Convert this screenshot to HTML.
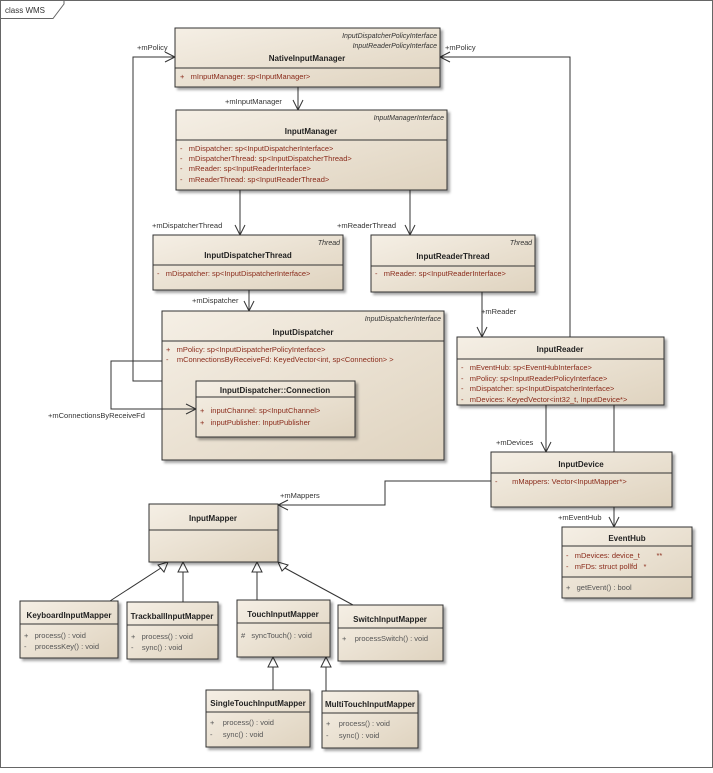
<!DOCTYPE html>
<html><head><meta charset="utf-8"><style>
html,body{margin:0;padding:0;background:#fff;}
svg text{font-family:"Liberation Sans",sans-serif;}
.t{font-size:8px;font-weight:bold;fill:#222;text-anchor:middle}
.s{font-size:7px;font-style:italic;fill:#333;text-anchor:end}
.a{font-size:7.5px;fill:#8a2b1b}
.m{font-size:7.5px;fill:#555}
.l{font-size:7.5px;fill:#333}
.ln{stroke:#333;stroke-width:1;fill:none}
</style></head><body>
<svg width="713" height="768" viewBox="0 0 713 768" xmlns="http://www.w3.org/2000/svg">
<defs>
<linearGradient id="g" x1="0" y1="0" x2="1" y2="1"><stop offset="0" stop-color="#f5efe5"/><stop offset="1" stop-color="#dfd3bf"/></linearGradient>
<filter id="sh" x="-5%" y="-5%" width="115%" height="120%"><feDropShadow dx="2.5" dy="2.5" stdDeviation="1.2" flood-color="#000" flood-opacity="0.35"/></filter>
</defs>
<rect x="0.5" y="0.5" width="712" height="767" fill="#fff" stroke="#666"/>
<path d="M0.5 18.5 H53 L64 4 V0.5" fill="none" stroke="#666"/>
<text x="5" y="13" style="font-size:8px;fill:#333">class WMS</text>

<path class="ln" d="M162 381 H133 V57 H175"/>
<path class="ln" d="M165 52 L175 57 L165 62"/>
<text class="l" x="137" y="50">+mPolicy</text>
<path class="ln" d="M570 337 V57 H440"/>
<path class="ln" d="M450 52 L440 57 L450 62"/>
<text class="l" x="445" y="50">+mPolicy</text>
<path class="ln" d="M298 87 V110 M293 100 L298 110 L303 100"/>
<text class="l" x="225" y="104">+mInputManager</text>
<path class="ln" d="M240 190 V235 M235 225 L240 235 L245 225"/>
<text class="l" x="152" y="228">+mDispatcherThread</text>
<path class="ln" d="M410 190 V235 M405 225 L410 235 L415 225"/>
<text class="l" x="337" y="228">+mReaderThread</text>
<path class="ln" d="M249 290 V311 M244 301 L249 311 L254 301"/>
<text class="l" x="192" y="303">+mDispatcher</text>
<path class="ln" d="M482 292 V337 M477 327 L482 337 L487 327"/>
<text class="l" x="481" y="314">+mReader</text>
<path class="ln" d="M546 405 V452 M541 442 L546 452 L551 442"/>
<text class="l" x="496" y="445">+mDevices</text>
<path class="ln" d="M614 405 V527 M609 517 L614 527 L619 517"/>
<text class="l" x="558" y="520">+mEventHub</text>
<path class="ln" d="M491 481 H385 V505 H278 M288 500 L278 505 L288 510"/>
<text class="l" x="280" y="498">+mMappers</text>
<text class="l" x="48" y="418">+mConnectionsByReceiveFd</text>

<path class="ln" d="M110 601 L164 566 M183 602 V570 M257 600 V570 M353 605 L283 567 M273 690 V665 M326 691 V665"/>
<g fill="#fff" stroke="#333">
<path d="M168 562 L158 565 L164 572 Z"/>
<path d="M183 562 L178 572 L188 572 Z"/>
<path d="M257 562 L252 572 L262 572 Z"/>
<path d="M278 562 L282 571 L288 565 Z"/>
<path d="M273 657 L268 667 L278 667 Z"/>
<path d="M326 657 L321 667 L331 667 Z"/>
</g>

<g stroke="#333" fill="url(#g)" filter="url(#sh)">
<rect x="175" y="28" width="265" height="59"/>
<rect x="176" y="110" width="271" height="80"/>
<rect x="153" y="235" width="190" height="55"/>
<rect x="371" y="235" width="164" height="57"/>
<rect x="162" y="311" width="282" height="149"/>
<rect x="457" y="337" width="207" height="68"/>
<rect x="491" y="452" width="181" height="55"/>
<rect x="562" y="527" width="130" height="71"/>
<rect x="149" y="504" width="129" height="58"/>
<rect x="20" y="601" width="98" height="57"/>
<rect x="127" y="602" width="91" height="57"/>
<rect x="237" y="600" width="93" height="57"/>
<rect x="338" y="605" width="105" height="56"/>
<rect x="206" y="690" width="104" height="57"/>
<rect x="322" y="691" width="96" height="57"/>
</g>
<path class="ln" d="M162 361 H111 V409 H196"/>
<path class="ln" d="M186 404 L196 409 L186 414"/>
<rect x="196" y="381" width="159" height="56" stroke="#333" fill="url(#g)" filter="url(#sh)"/>
<g stroke="#333">
<line x1="175" y1="68" x2="440" y2="68"/>
<line x1="176" y1="140" x2="447" y2="140"/>
<line x1="153" y1="265" x2="343" y2="265"/>
<line x1="371" y1="266" x2="535" y2="266"/>
<line x1="162" y1="341" x2="444" y2="341"/>
<line x1="196" y1="397" x2="355" y2="397"/>
<line x1="457" y1="359" x2="664" y2="359"/>
<line x1="491" y1="473" x2="672" y2="473"/>
<line x1="562" y1="546" x2="692" y2="546"/>
<line x1="562" y1="577" x2="692" y2="577"/>
<line x1="149" y1="530" x2="278" y2="530"/>
<line x1="20" y1="624" x2="118" y2="624"/>
<line x1="127" y1="625" x2="218" y2="625"/>
<line x1="237" y1="623" x2="330" y2="623"/>
<line x1="338" y1="628" x2="443" y2="628"/>
<line x1="206" y1="712" x2="310" y2="712"/>
<line x1="322" y1="713" x2="418" y2="713"/>
</g>

<text class="s" x="437" y="38">InputDispatcherPolicyInterface</text>
<text class="s" x="437" y="48">InputReaderPolicyInterface</text>
<text class="t" x="307" y="61">NativeInputManager</text>
<text class="a" x="180" y="79">+&#160;&#160;&#160;mInputManager:&#160;sp&lt;InputManager&gt;</text>

<text class="s" x="444" y="120">InputManagerInterface</text>
<text class="t" x="311" y="134">InputManager</text>
<text class="a" x="180" y="151">-&#160;&#160;&#160;mDispatcher:&#160;sp&lt;InputDispatcherInterface&gt;</text>
<text class="a" x="180" y="161">-&#160;&#160;&#160;mDispatcherThread:&#160;sp&lt;InputDispatcherThread&gt;</text>
<text class="a" x="180" y="171">-&#160;&#160;&#160;mReader:&#160;sp&lt;InputReaderInterface&gt;</text>
<text class="a" x="180" y="182">-&#160;&#160;&#160;mReaderThread:&#160;sp&lt;InputReaderThread&gt;</text>

<text class="s" x="340" y="245">Thread</text>
<text class="t" x="248" y="258">InputDispatcherThread</text>
<text class="a" x="157" y="276">-&#160;&#160;&#160;mDispatcher:&#160;sp&lt;InputDispatcherInterface&gt;</text>

<text class="s" x="532" y="245">Thread</text>
<text class="t" x="453" y="259">InputReaderThread</text>
<text class="a" x="375" y="276">-&#160;&#160;&#160;mReader:&#160;sp&lt;InputReaderInterface&gt;</text>

<text class="s" x="441" y="321">InputDispatcherInterface</text>
<text class="t" x="303" y="335">InputDispatcher</text>
<text class="a" x="166" y="352">+&#160;&#160;&#160;mPolicy:&#160;sp&lt;InputDispatcherPolicyInterface&gt;</text>
<text class="a" x="166" y="362">-&#160;&#160;&#160;&#160;mConnectionsByReceiveFd:&#160;KeyedVector&lt;int,&#160;sp&lt;Connection&gt;&#160;&gt;</text>

<text class="t" x="275" y="393">InputDispatcher::Connection</text>
<text class="a" x="200" y="413">+&#160;&#160;&#160;inputChannel:&#160;sp&lt;InputChannel&gt;</text>
<text class="a" x="200" y="425">+&#160;&#160;&#160;inputPublisher:&#160;InputPublisher</text>

<text class="t" x="560" y="352">InputReader</text>
<text class="a" x="461" y="370">-&#160;&#160;&#160;mEventHub:&#160;sp&lt;EventHubInterface&gt;</text>
<text class="a" x="461" y="381">-&#160;&#160;&#160;mPolicy:&#160;sp&lt;InputReaderPolicyInterface&gt;</text>
<text class="a" x="461" y="391">-&#160;&#160;&#160;mDispatcher:&#160;sp&lt;InputDispatcherInterface&gt;</text>
<text class="a" x="461" y="402">-&#160;&#160;&#160;mDevices:&#160;KeyedVector&lt;int32_t,&#160;InputDevice*&gt;</text>

<text class="t" x="581" y="467">InputDevice</text>
<text class="a" x="495" y="484">-&#160;&#160;&#160;&#160;&#160;&#160;&#160;mMappers:&#160;Vector&lt;InputMapper*&gt;</text>

<text class="t" x="627" y="541">EventHub</text>
<text class="a" x="566" y="558">-&#160;&#160;&#160;mDevices:&#160;device_t&#160;&#160;&#160;&#160;&#160;&#160;&#160;&#160;**</text>
<text class="a" x="566" y="569">-&#160;&#160;&#160;mFDs:&#160;struct&#160;pollfd&#160;&#160;&#160;*</text>
<text class="m" x="566" y="590">+&#160;&#160;&#160;getEvent()&#160;:&#160;bool</text>

<text class="t" x="213" y="521">InputMapper</text>

<text class="t" x="69" y="618">KeyboardInputMapper</text>
<text class="m" x="24" y="638">+&#160;&#160;&#160;process()&#160;:&#160;void</text>
<text class="m" x="24" y="649">-&#160;&#160;&#160;&#160;processKey()&#160;:&#160;void</text>

<text class="t" x="172" y="619">TrackballInputMapper</text>
<text class="m" x="131" y="639">+&#160;&#160;&#160;process()&#160;:&#160;void</text>
<text class="m" x="131" y="650">-&#160;&#160;&#160;&#160;sync()&#160;:&#160;void</text>

<text class="t" x="283" y="617">TouchInputMapper</text>
<text class="m" x="241" y="638">#&#160;&#160;&#160;syncTouch()&#160;:&#160;void</text>

<text class="t" x="390" y="622">SwitchInputMapper</text>
<text class="m" x="342" y="641">+&#160;&#160;&#160;&#160;processSwitch()&#160;:&#160;void</text>

<text class="t" x="258" y="706">SingleTouchInputMapper</text>
<text class="m" x="210" y="725">+&#160;&#160;&#160;&#160;process()&#160;:&#160;void</text>
<text class="m" x="210" y="737">-&#160;&#160;&#160;&#160;&#160;sync()&#160;:&#160;void</text>

<text class="t" x="370" y="707">MultiTouchInputMapper</text>
<text class="m" x="326" y="726">+&#160;&#160;&#160;&#160;process()&#160;:&#160;void</text>
<text class="m" x="326" y="738">-&#160;&#160;&#160;&#160;&#160;sync()&#160;:&#160;void</text>
</svg>
</body></html>
